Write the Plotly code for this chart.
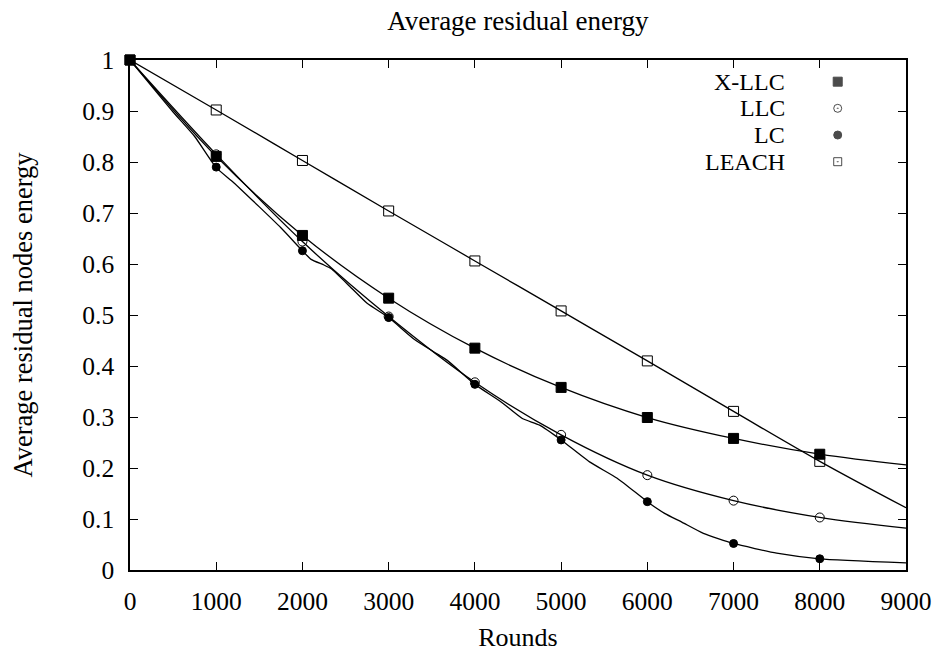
import plotly.graph_objects as go

# ---- data ----
rounds_marks = [0, 1000, 2000, 3000, 4000, 5000, 6000, 7000, 8000]
xllc_marks = [1.0, 0.811, 0.656, 0.533, 0.435, 0.358, 0.299, 0.258, 0.227]
llc_marks = [1.0, 0.815, 0.644, 0.497, 0.368, 0.265, 0.186, 0.136, 0.103]
lc_marks = [1.0, 0.790, 0.626, 0.495, 0.364, 0.255, 0.134, 0.052, 0.022]
leach_marks = [1.0, 0.902, 0.803, 0.704, 0.606, 0.508, 0.410, 0.311, 0.213]

rounds_line = [0, 1000, 2000, 3000, 4000, 5000, 6000, 7000, 8000, 9000]
xllc_line = [1.0, 0.811, 0.656, 0.533, 0.435, 0.358, 0.299, 0.258, 0.227, 0.206]
llc_line = [1.0, 0.815, 0.644, 0.497, 0.368, 0.265, 0.186, 0.136, 0.103, 0.082]
leach_line = [1.0, 0.902, 0.803, 0.704, 0.606, 0.508, 0.410, 0.311, 0.213, 0.122]

lc_line_rounds = [0, 500, 750, 1000, 1200, 1500, 1750, 2000, 2100, 2250, 2330, 2550,
                  2750, 3000, 3300, 3550, 3680, 4000, 4300, 4550, 4750, 5000, 5330,
                  5650, 6000, 6200, 6400, 6650, 7000, 7500, 8000, 9000]
lc_line = [1.0, 0.898, 0.850, 0.789, 0.760, 0.712, 0.671, 0.626, 0.609, 0.598, 0.591, 0.556,
           0.523, 0.495, 0.452, 0.425, 0.411, 0.364, 0.330, 0.297, 0.284, 0.255, 0.212,
           0.180, 0.134, 0.111, 0.094, 0.072, 0.052, 0.033, 0.022, 0.014]

series_names = ["X-LLC", "LLC", "LC", "LEACH"]
x_ticks = [0, 1000, 2000, 3000, 4000, 5000, 6000, 7000, 8000, 9000]
y_ticks = [0, 0.1, 0.2, 0.3, 0.4, 0.5, 0.6, 0.7, 0.8, 0.9, 1]
y_tick_labels = ["0", "0.1", "0.2", "0.3", "0.4", "0.5", "0.6", "0.7", "0.8", "0.9", "1"]

FONT = "Liberation Serif"
BLACK = "#000000"

fig = go.Figure()

# lines
for xs, ys, sm in [(rounds_line, xllc_line, 1.0), (rounds_line, llc_line, 1.0),
                   (lc_line_rounds, lc_line, 0.5), (rounds_line, leach_line, 1.0)]:
    fig.add_trace(go.Scatter(x=xs, y=ys, mode="lines",
                             line=dict(color=BLACK, width=1.3, shape="spline", smoothing=sm),
                             showlegend=False, hoverinfo="skip"))

# markers
symbols = ["square", "circle-open", "circle", "square-open"]
sizes = [10, 9, 8, 10]
for name, ys, sym, sz in zip(series_names, [xllc_marks, llc_marks, lc_marks, leach_marks], symbols, sizes):
    fig.add_trace(go.Scatter(x=rounds_marks, y=ys, mode="markers", name=name,
                             marker=dict(symbol=sym, size=sz, color=BLACK,
                                         line=dict(color=BLACK, width=1)),
                             cliponaxis=False, showlegend=False))

# custom gnuplot-style key (text then marker)
key_rows = [0.9575, 0.9053, 0.8529, 0.8006]
key_symbols = ["square", "circle-open-dot", "circle", "square-open-dot"]
key_sizes = [9, 8, 8, 8]
fig.add_trace(go.Scatter(x=[0.912] * 4, y=key_rows, mode="markers", xaxis="x2", yaxis="y2",
                         marker=dict(symbol=key_symbols, size=key_sizes, color=BLACK,
                                     line=dict(color=BLACK, width=1)),
                         showlegend=False, hoverinfo="skip", cliponaxis=False))
for name, yy in zip(series_names, key_rows):
    fig.add_annotation(x=0.845, y=yy, xref="paper", yref="paper", text=name,
                       showarrow=False, xanchor="right", yanchor="middle",
                       borderpad=0,
                       font=dict(family=FONT, size=24, color=BLACK))

axis_common = dict(showgrid=False, zeroline=False, showline=True, linecolor=BLACK,
                   linewidth=1.5, mirror="ticks", ticks="inside", ticklen=8,
                   tickwidth=1.2, tickcolor=BLACK, automargin=False,
                   tickfont=dict(family=FONT, size=25.5, color=BLACK))

fig.update_layout(
    width=945, height=652,
    margin=dict(l=130, r=39, t=60, b=82),
    paper_bgcolor="white", plot_bgcolor="white",
    showlegend=False,
    font=dict(family=FONT, size=25, color=BLACK),
    title=dict(text="Average residual energy", x=0.548, xanchor="center",
               y=0.968, yanchor="middle", font=dict(family=FONT, size=27, color=BLACK)),
    xaxis=dict(range=[0, 9000], tickvals=x_ticks, ticktext=[str(v) for v in x_ticks],
               title=dict(text="Rounds", font=dict(family=FONT, size=26, color=BLACK), standoff=12),
               ticklabelstandoff=8, **axis_common),
    yaxis=dict(range=[0, 1], tickvals=y_ticks, ticktext=y_tick_labels,
               title=dict(text="Average residual nodes energy",
                          font=dict(family=FONT, size=26.5, color=BLACK), standoff=42),
               ticklabelstandoff=9, **axis_common),
    xaxis2=dict(range=[0, 1], overlaying="x", visible=False, fixedrange=True),
    yaxis2=dict(range=[0, 1], overlaying="y", visible=False, fixedrange=True),
)

fig.write_html("out.html")
